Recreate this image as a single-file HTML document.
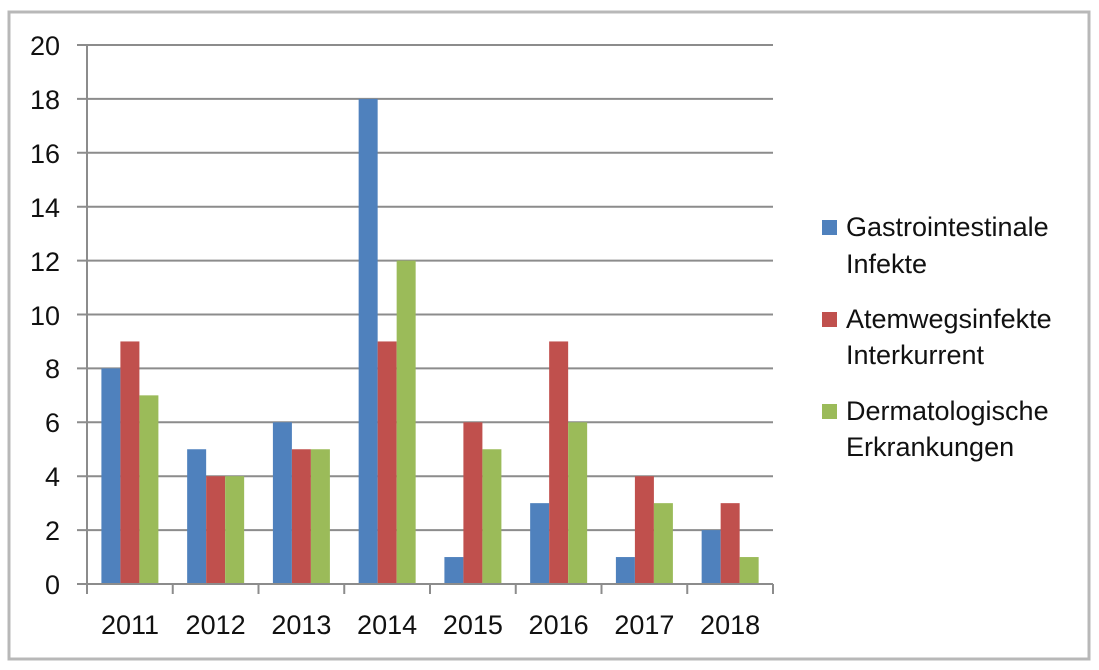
<!DOCTYPE html>
<html><head><meta charset="utf-8"><style>
html,body{margin:0;padding:0;background:#fff;}
svg{display:block;font-family:"Liberation Sans",Carlito,sans-serif;}
</style></head><body>
<svg width="1099" height="670" viewBox="0 0 1099 670">
<rect x="0" y="0" width="1099" height="670" fill="#fff"/>
<rect x="9" y="12" width="1080" height="647" fill="#fff" stroke="#b8b8b8" stroke-width="3"/>
<g stroke="#8c8c8c" stroke-width="2">
<line x1="77" x2="773" y1="45" y2="45"/><line x1="77" x2="773" y1="98.9" y2="98.9"/>
<line x1="77" x2="773" y1="152.8" y2="152.8"/><line x1="77" x2="773" y1="206.7" y2="206.7"/>
<line x1="77" x2="773" y1="260.6" y2="260.6"/><line x1="77" x2="773" y1="314.5" y2="314.5"/>
<line x1="77" x2="773" y1="368.4" y2="368.4"/><line x1="77" x2="773" y1="422.3" y2="422.3"/>
<line x1="77" x2="773" y1="476.2" y2="476.2"/><line x1="77" x2="773" y1="530.1" y2="530.1"/>
</g>
<g fill="#4f81bd">
<rect x="101.4" y="368.4" width="19" height="215.6"/>
<rect x="187.15" y="449.25" width="19" height="134.75"/>
<rect x="272.9" y="422.3" width="19" height="161.7"/>
<rect x="358.65" y="98.9" width="19" height="485.1"/>
<rect x="444.4" y="557.05" width="19" height="26.95"/>
<rect x="530.15" y="503.15" width="19" height="80.85"/>
<rect x="615.9" y="557.05" width="19" height="26.95"/>
<rect x="701.65" y="530.1" width="19" height="53.9"/>
</g>
<g fill="#c0504d">
<rect x="120.4" y="341.45" width="19" height="242.55"/>
<rect x="206.15" y="476.2" width="19" height="107.8"/>
<rect x="291.9" y="449.25" width="19" height="134.75"/>
<rect x="377.65" y="341.45" width="19" height="242.55"/>
<rect x="463.4" y="422.3" width="19" height="161.7"/>
<rect x="549.15" y="341.45" width="19" height="242.55"/>
<rect x="634.9" y="476.2" width="19" height="107.8"/>
<rect x="720.65" y="503.15" width="19" height="80.85"/>
</g>
<g fill="#9bbb59">
<rect x="139.4" y="395.35" width="19" height="188.65"/>
<rect x="225.15" y="476.2" width="19" height="107.8"/>
<rect x="310.9" y="449.25" width="19" height="134.75"/>
<rect x="396.65" y="260.6" width="19" height="323.4"/>
<rect x="482.4" y="449.25" width="19" height="134.75"/>
<rect x="568.15" y="422.3" width="19" height="161.7"/>
<rect x="653.9" y="503.15" width="19" height="80.85"/>
<rect x="739.65" y="557.05" width="19" height="26.95"/>
</g>
<g stroke="#8c8c8c" stroke-width="2">
<line x1="87" x2="87" y1="45" y2="594"/>
<line x1="77" x2="773" y1="584" y2="584"/>
<line x1="172.75" x2="172.75" y1="584" y2="594"/><line x1="258.5" x2="258.5" y1="584" y2="594"/>
<line x1="344.25" x2="344.25" y1="584" y2="594"/><line x1="430" x2="430" y1="584" y2="594"/>
<line x1="515.75" x2="515.75" y1="584" y2="594"/><line x1="601.5" x2="601.5" y1="584" y2="594"/>
<line x1="687.25" x2="687.25" y1="584" y2="594"/><line x1="773" x2="773" y1="584" y2="594"/>
</g>
<g font-size="27" fill="#111" text-anchor="end">
<text x="60" y="55">20</text><text x="60" y="109">18</text><text x="60" y="163">16</text>
<text x="60" y="217">14</text><text x="60" y="271">12</text><text x="60" y="325">10</text>
<text x="60" y="378">8</text><text x="60" y="432">6</text><text x="60" y="486">4</text>
<text x="60" y="540">2</text><text x="60" y="594">0</text>
</g>
<g font-size="27" fill="#111" text-anchor="middle">
<text x="130" y="634">2011</text><text x="215.6" y="634">2012</text><text x="301.4" y="634">2013</text>
<text x="387.1" y="634">2014</text><text x="472.9" y="634">2015</text><text x="558.6" y="634">2016</text>
<text x="644.4" y="634">2017</text><text x="730.1" y="634">2018</text>
</g>
<rect x="822" y="220" width="15" height="15" fill="#4f81bd"/>
<rect x="822" y="312" width="15" height="15" fill="#c0504d"/>
<rect x="822" y="404" width="15" height="15" fill="#9bbb59"/>
<g font-size="27" fill="#111">
<text x="846" y="236">Gastrointestinale</text><text x="846" y="273">Infekte</text>
<text x="846" y="328">Atemwegsinfekte</text><text x="846" y="364">Interkurrent</text>
<text x="846" y="420">Dermatologische</text><text x="846" y="456">Erkrankungen</text>
</g>
</svg>
</body></html>
